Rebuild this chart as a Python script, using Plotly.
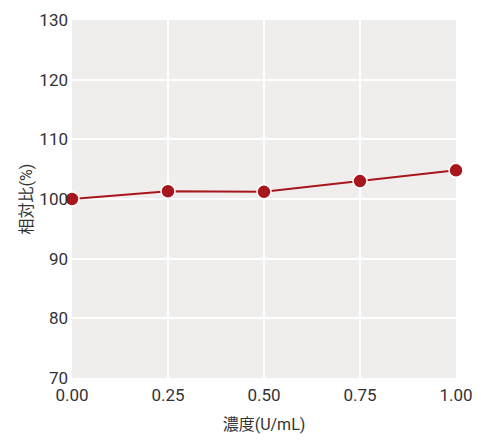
import plotly.graph_objects as go

concentration = [0.00, 0.25, 0.50, 0.75, 1.00]
relative_ratio = [100.0, 101.3, 101.2, 103.0, 104.8]
x_ticks = [0.00, 0.25, 0.50, 0.75, 1.00]
x_tick_labels = ["0.00", "0.25", "0.50", "0.75", "1.00"]
y_ticks = [70, 80, 90, 100, 110, 120, 130]

red = "#A8161D"
font_family = "Roboto, 'Noto Sans CJK JP', sans-serif"

fig = go.Figure(
    go.Scatter(
        x=concentration,
        y=relative_ratio,
        mode="lines+markers",
        line=dict(color=red, width=2),
        marker=dict(size=14, color=red, line=dict(color="white", width=1.5)),
        cliponaxis=False,
    )
)

fig.update_layout(
    width=481,
    height=447,
    margin=dict(l=64, r=33, t=12, b=77, autoexpand=False),
    paper_bgcolor="white",
    plot_bgcolor="#EFEEED",
    showlegend=False,
    font=dict(family=font_family, color="#333333", size=17),
)

fig.update_xaxes(
    range=[0, 1],
    tickvals=x_ticks,
    ticktext=x_tick_labels,
    showgrid=True,
    gridcolor="white",
    gridwidth=2,
    zeroline=False,
    showline=False,
    ticks="",
    ticklabelstandoff=5,
    tickfont=dict(size=17, color="#333333"),
    title=dict(text="濃度(U/mL)", font=dict(size=16, color="#333333"), standoff=14),
)

fig.update_yaxes(
    range=[70, 130],
    tickvals=y_ticks,
    showgrid=True,
    gridcolor="white",
    gridwidth=2,
    zeroline=False,
    showline=False,
    ticks="",
    ticklabelstandoff=3,
    tickfont=dict(size=17, color="#333333"),
    title=dict(text="相対比(%)", font=dict(size=16, color="#333333"), standoff=2),
)

fig.write_html("out.html")
